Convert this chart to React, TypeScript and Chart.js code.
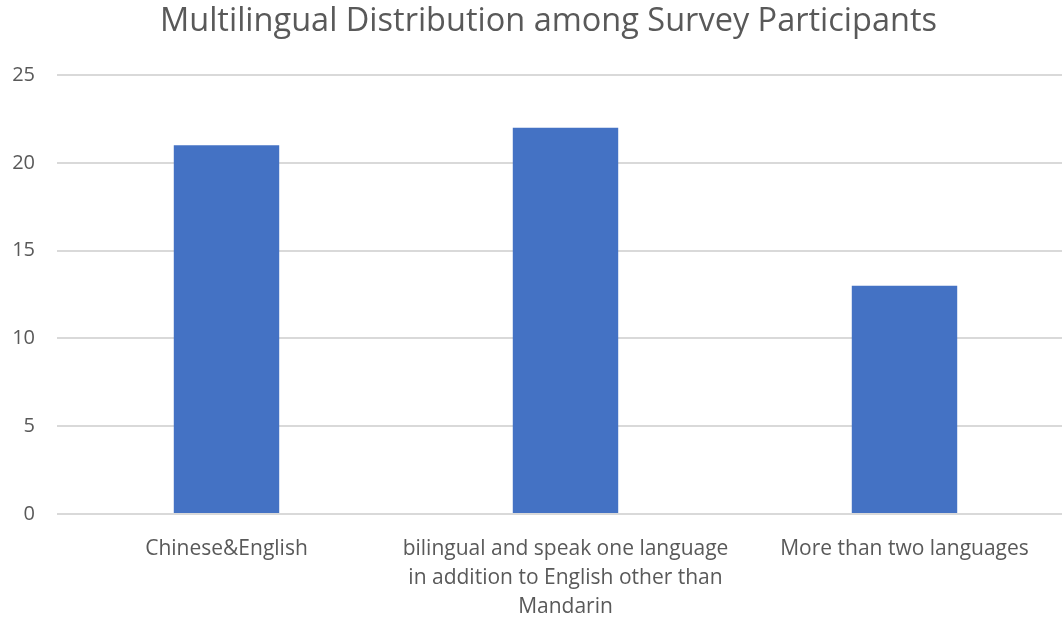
import React, { useEffect, useRef } from "react";
import { Chart, registerables } from "chart.js";

Chart.register(...registerables);

const categories: (string | string[])[] = [
  "Chinese&English",
  ["bilingual and speak one language", "in addition to English other than", "Mandarin"],
  "More than two languages",
];
const values: number[] = [21, 22, 13];
const yTicks = { min: 0, max: 25, step: 5 };
const titleText = "Multilingual Distribution among Survey Participants";

const FONT = "'Open Sans', sans-serif";
const GRAY = "#595959";
const CANVAS_W = 1074;

const titlePlugin = {
  id: "fixedTitle",
  afterDraw(chart: any) {
    const ctx = chart.ctx;
    ctx.save();
    ctx.fillStyle = GRAY;
    ctx.font = `normal 32.5px ${FONT}`;
    ctx.textAlign = "center";
    ctx.textBaseline = "middle";
    ctx.fillText(titleText, 548.5, 22);
    ctx.restore();
  },
};

export default function App() {
  const ref = useRef<HTMLCanvasElement>(null);
  useEffect(() => {
    document.body.style.margin = "0";
    const chart = new Chart(ref.current!, {
      type: "bar",
      data: {
        labels: categories,
        datasets: [
          {
            data: values,
            backgroundColor: "#4472c4",
            borderWidth: 0,
            categoryPercentage: 1,
            barPercentage: 0.311,
          },
        ],
      },
      plugins: [titlePlugin],
      options: {
        animation: false,
        responsive: false,
        maintainAspectRatio: false,
        layout: { padding: { left: 0, right: 0, top: 75, bottom: 0 } },
        plugins: {
          legend: { display: false },
          tooltip: { enabled: false },
          title: { display: false },
        },
        scales: {
          x: {
            grid: { display: false },
            border: { display: false },
            ticks: {
              color: GRAY,
              font: { family: FONT, size: 21, lineHeight: 1.4 },
              maxRotation: 0,
              autoSkip: false,
              padding: 12,
            },
            afterFit: (s: any) => {
              s.height = 103;
            },
          },
          y: {
            min: yTicks.min,
            max: yTicks.max,
            ticks: {
              stepSize: yTicks.step,
              color: GRAY,
              font: { family: FONT, size: 20 },
              padding: 22,
            },
            grid: { color: "#d9d9d9", lineWidth: 2, drawTicks: false },
            border: { display: false },
            afterFit: (s: any) => {
              s.width = 57;
            },
          },
        },
      },
    });
    return () => chart.destroy();
  }, []);
  return (
    <div style={{ position: "absolute", left: 0, top: 0, width: 1062, height: 617, overflow: "hidden" }}>
      <canvas ref={ref} width={CANVAS_W} height={617} style={{ width: CANVAS_W, height: 617 }} />
    </div>
  );
}
